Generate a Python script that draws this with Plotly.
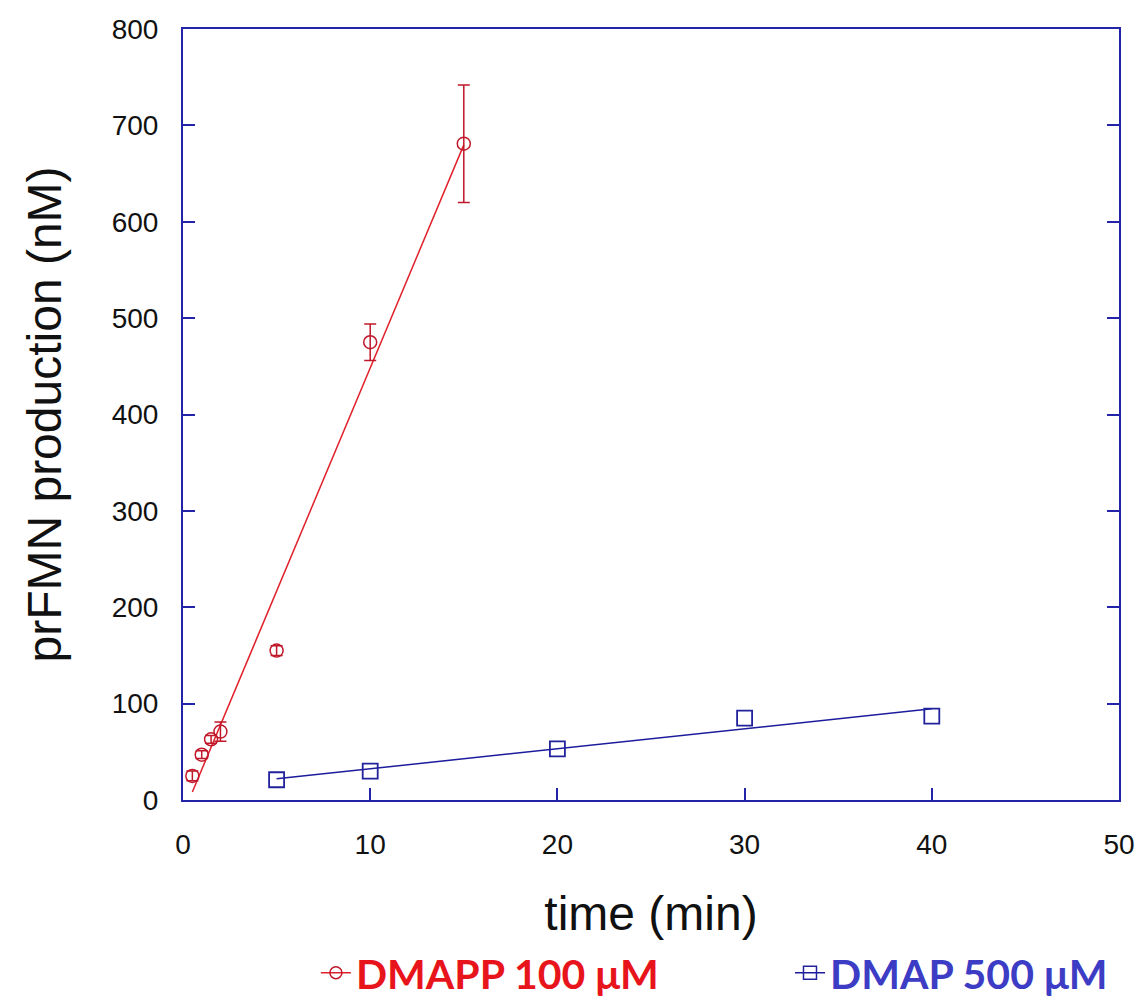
import numpy as np
import plotly.graph_objects as go

# ---- data ----
red_time = [0.5, 1.0, 1.5, 2.0, 5.0, 10.0, 15.0]
red_prod = [25, 47, 63, 71, 155, 475, 681]
red_err = [5, 4, 4, 10, 5, 19, 61]

blue_time = [5, 10, 20, 30, 40]
blue_prod = [21, 30, 53, 85, 87]

red_name = "DMAPP 100 μM"
blue_name = "DMAP 500 μM"

x_ticks = [0, 10, 20, 30, 40, 50]
y_ticks = [0, 100, 200, 300, 400, 500, 600, 700, 800]

# ---- styles ----
RED_LINE = "#e0202a"
RED_MARK = "#c0182a"
BLUE_LINE = "#1c1c9c"
BLUE_MARK = "#22229c"
FRAME = "#2424a8"
RED_TXT = "#e8141c"
BLUE_TXT = "#3c3cc4"

# linear fits
rs, ri = np.polyfit(red_time, red_prod, 1)
bs, bi = np.polyfit(blue_time, blue_prod, 1)
rfx = [min(red_time), max(red_time)]
bfx = [min(blue_time), max(blue_time)]

fig = go.Figure()

fig.add_trace(go.Scatter(x=rfx, y=[rs * v + ri for v in rfx], mode="lines",
                         line=dict(color=RED_LINE, width=1.5), showlegend=False,
                         hoverinfo="skip"))
fig.add_trace(go.Scatter(x=red_time, y=red_prod, mode="markers",
                         marker=dict(symbol="circle-open", size=13, color=RED_MARK,
                                     line=dict(width=1.5)),
                         error_y=dict(type="data", array=red_err, color=RED_MARK,
                                      thickness=1.5, width=6),
                         showlegend=False))
fig.add_trace(go.Scatter(x=bfx, y=[bs * v + bi for v in bfx], mode="lines",
                         line=dict(color=BLUE_LINE, width=1.5), showlegend=False,
                         hoverinfo="skip"))
fig.add_trace(go.Scatter(x=blue_time, y=blue_prod, mode="markers",
                         marker=dict(symbol="square-open", size=15, color=BLUE_MARK,
                                     line=dict(width=1.8)),
                         showlegend=False))

# legend entries
fig.add_trace(go.Scatter(x=[None], y=[None], mode="lines+markers", legend="legend",
                         name=f"<span style='color:{RED_TXT}'><b>{red_name}</b></span>",
                         line=dict(color=RED_LINE, width=1.5),
                         marker=dict(symbol="circle-open", size=12, color=RED_MARK,
                                     line=dict(width=1.5))))
fig.add_trace(go.Scatter(x=[None], y=[None], mode="lines+markers", legend="legend2",
                         name=f"<span style='color:{BLUE_TXT}'><b>{blue_name}</b></span>",
                         line=dict(color=BLUE_LINE, width=1.5),
                         marker=dict(symbol="square-open", size=13, color=BLUE_MARK,
                                     line=dict(width=1.5))))

axis_common = dict(
    showline=True, linecolor=FRAME, linewidth=2,
    ticks="inside", ticklen=12, tickwidth=2, tickcolor=FRAME,
    showgrid=False, zeroline=False,
    tickfont=dict(family="Liberation Sans, Arial", size=28, color="#111111"),
    title_font=dict(family="Liberation Sans, Arial", size=48, color="#111111"),
)

leg_common = dict(orientation="h", xanchor="left", y=-0.2244, yanchor="middle",
                  font=dict(family="Lato", size=41), bgcolor="rgba(0,0,0,0)")

fig.update_layout(
    width=1141, height=1000,
    margin=dict(l=183, r=22, t=29, b=200, autoexpand=False),
    paper_bgcolor="white", plot_bgcolor="white",
    xaxis=dict(range=[0, 50], tickvals=x_ticks, mirror=True,
               title=dict(text="time (min)", standoff=38),
               ticklabelstandoff=18, **axis_common),
    yaxis=dict(range=[0, 800], tickvals=y_ticks, mirror="ticks",
               title=dict(text="prFMN production (nM)", standoff=35),
               ticklabelstandoff=17, **axis_common),
    legend=dict(x=0.142, **leg_common),
    legend2=dict(x=0.6485, **leg_common),
)

fig.write_html("out.html", config={"displayModeBar": False})

# remove default browser page margin so the figure fills the window exactly
with open("out.html", "r", encoding="utf-8") as f:
    html = f.read()
html = html.replace("<head>", "<head><style>html,body{margin:0;padding:0;overflow:hidden;}</style>", 1)
with open("out.html", "w", encoding="utf-8") as f:
    f.write(html)
